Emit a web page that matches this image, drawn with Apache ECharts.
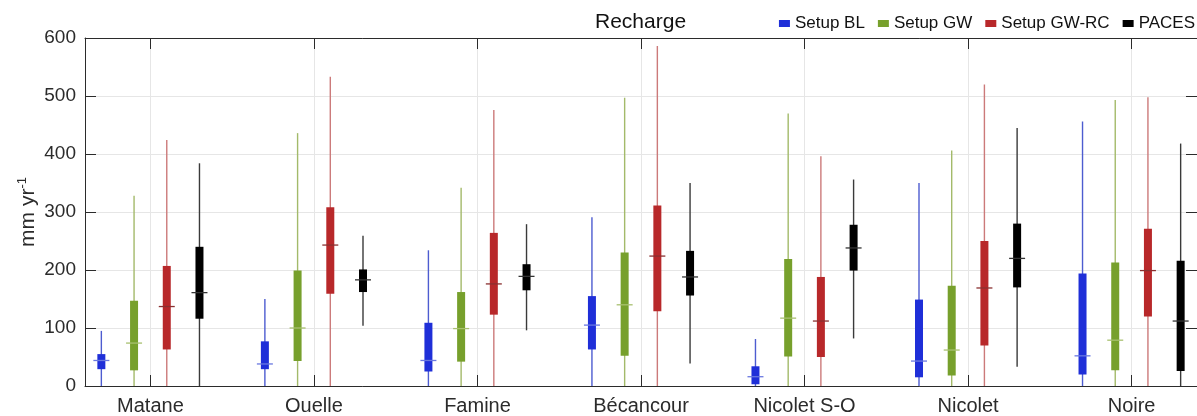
<!DOCTYPE html>
<html><head><meta charset="utf-8">
<script src="https://cdn.jsdelivr.net/npm/echarts@6/dist/echarts.min.js"></script>
<style>html,body{margin:0;padding:0;background:#fff}#c{width:1197px;height:416px}</style>
</head><body><div id="c"></div><script>
const categories = ['Matane','Ouelle','Famine','Bécancour','Nicolet S-O','Nicolet','Noire'];
const seriesNames = ['Setup BL','Setup GW','Setup GW-RC','PACES'];
const yTicks = [0,100,200,300,400,500,600];
// each entry: [min, q1, median, q3, max]
const setupBL = [[0,29,44,55,95],[0,29,38,77,150],[0,25,44,109,234],[0,63,105,155,291],[0,3,16,34,81],[0,15,43,149,350],[0,20,52,194,456]];
const setupGW = [[0,27,74,147,328],[0,43,100,199,436],[0,42,99,162,342],[0,52,140,230,497],[0,51,117,219,470],[0,18,62,173,406],[0,27,79,213,493]];
const setupGWRC = [[0,63,137,207,424],[0,159,243,308,533],[0,123,176,264,476],[0,129,224,311,586],[0,50,112,188,396],[0,70,169,250,520],[0,120,199,271,498]];
const paces = [[0,116,161,240,384],[104,162,183,201,259],[96,165,189,210,279],[39,156,188,233,350],[82,199,238,278,356],[33,170,220,280,445],[0,26,112,216,418]];

const allData = [setupBL, setupGW, setupGWRC, paces];
const offsets = [-0.3, -0.1, 0.1, 0.3];
const boxColors = ['#1f2fd8', '#77a02c', '#b8282a', '#000000'];
const whiskerColors = ['#4d5cd0', '#a3ba6a', '#cc7a7a', '#3a3a3a'];
const medianColors = ['#6a78e0', '#a8c070', '#8a3030', '#333333'];
const catPos = categories.map((c, i) => i + 1);

function makeRender(k) {
  return function (params, api) {
    const cat = api.value(0);
    const x = api.coord([cat + offsets[k], 0])[0];
    const yMin = api.coord([cat, api.value(1)])[1];
    const yQ1 = api.coord([cat, api.value(2)])[1];
    const yMed = api.coord([cat, api.value(3)])[1];
    const yQ3 = api.coord([cat, api.value(4)])[1];
    const yMax = api.coord([cat, api.value(5)])[1];
    return {
      type: 'group',
      children: [
        { type: 'line', shape: { x1: x, y1: yMin, x2: x, y2: yMax }, style: { stroke: whiskerColors[k], lineWidth: 1.4 } },
        { type: 'rect', shape: { x: x - 4, y: yQ3, width: 8, height: yQ1 - yQ3 }, style: { fill: boxColors[k] } },
        { type: 'line', shape: { x1: x - 8, y1: yMed, x2: x + 8, y2: yMed }, style: { stroke: medianColors[k], lineWidth: 1.3 } }
      ]
    };
  };
}

const series = seriesNames.map((name, k) => ({
  name: name,
  type: 'custom',
  renderItem: makeRender(k),
  itemStyle: { color: boxColors[k] },
  encode: { x: 0, y: [1, 2, 3, 4, 5] },
  data: allData[k].map((v, i) => [catPos[i]].concat(v)),
  z: 3
}));

const axisColor = '#2b2b2b';
const textColor = '#2b2b2b';
const chart = echarts.init(document.getElementById('c'), null, { renderer: 'canvas' });
chart.setOption({
  animation: false,
  backgroundColor: '#ffffff',
  title: {
    text: 'Recharge', left: 595, top: 12, padding: 0,
    textStyle: { fontFamily: 'Liberation Sans', fontSize: 21, fontWeight: 'normal', color: '#111' }
  },
  legend: {
    data: seriesNames, right: 2, top: 15, padding: 0, icon: 'rect', itemWidth: 11, itemHeight: 7, itemGap: 13,
    textStyle: { fontFamily: 'Liberation Sans', fontSize: 17, color: '#111' }
  },
  grid: { left: 85, top: 38, width: 1115, height: 350 },
  xAxis: [{
    type: 'value', min: 0.6, max: 7.4, splitNumber: 7, position: 'bottom',
    axisLine: { show: true, onZero: false, lineStyle: { color: axisColor, width: 1 } },
    axisTick: { show: true, inside: true, length: 11, customValues: catPos, lineStyle: { color: axisColor } },
    axisLabel: {
      customValues: catPos, margin: 10, fontFamily: 'Liberation Sans', fontSize: 20, color: textColor,
      formatter: v => categories[Math.round(v) - 1] || ''
    },
    splitLine: { show: true, lineStyle: { color: '#e6e6e6', width: 1 } }
  }, {
    type: 'value', min: 0.6, max: 7.4, splitNumber: 7, position: 'top',
    axisLine: { show: true, onZero: false, lineStyle: { color: axisColor, width: 1 } },
    axisTick: { show: true, inside: true, length: 11, customValues: catPos, lineStyle: { color: axisColor } },
    axisLabel: { show: false },
    splitLine: { show: false }
  }],
  yAxis: [{
    type: 'value', min: 0, max: 600, interval: 100, position: 'left',
    name: '{n|mm yr}{s|-1}', nameLocation: 'middle', nameGap: 45, nameRotate: 90, nameMoveOverlap: false,
    nameTextStyle: {
      fontFamily: 'Liberation Sans', color: textColor,
      rich: { n: { fontSize: 21, lineHeight: 24, fontFamily: 'Liberation Sans', color: textColor },
              s: { fontSize: 13, lineHeight: 24, verticalAlign: 'top', fontFamily: 'Liberation Sans', color: textColor } }
    },
    axisLine: { show: true, lineStyle: { color: axisColor, width: 1 } },
    axisTick: { show: true, inside: true, length: 11, lineStyle: { color: axisColor } },
    axisLabel: { margin: 9, fontFamily: 'Liberation Sans', fontSize: 19, color: textColor,
      formatter: v => (yTicks.indexOf(v) >= 0 ? String(v) : '') },
    splitLine: { show: true, lineStyle: { color: '#e6e6e6', width: 1 } }
  }, {
    type: 'value', min: 0, max: 600, interval: 100, position: 'right',
    axisLine: { show: true, lineStyle: { color: axisColor, width: 1 } },
    axisTick: { show: true, inside: true, length: 11, lineStyle: { color: axisColor } },
    axisLabel: { show: false },
    splitLine: { show: false }
  }],
  series: series
});
</script></body></html>
